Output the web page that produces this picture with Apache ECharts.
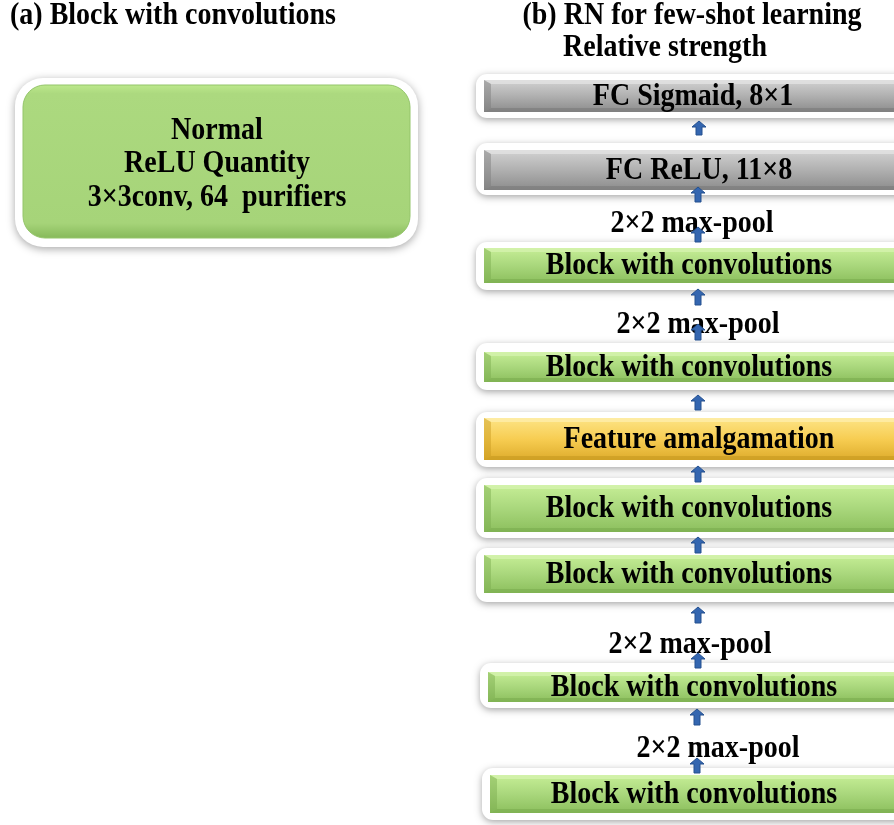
<!DOCTYPE html>
<html>
<head>
<meta charset="utf-8">
<script src="https://cdn.jsdelivr.net/npm/echarts@6/dist/echarts.min.js"></script>
<style>html,body{margin:0;padding:0;background:#fff}#c{width:894px;height:825px}</style>
</head>
<body>
<div id="c"></div>
<script>
// ---- content ----
const leftTitle = '(a) Block with convolutions';
const blockLines = ['Normal', 'ReLU Quantity', '3×3conv, 64  purifiers'];
const rightTitle = ['(b) RN for few-shot learning', 'Relative strength'];
const layerLabels = ['FC Sigmaid, 8×1', 'FC ReLU, 11×8', 'Block with convolutions', 'Block with convolutions',
  'Feature amalgamation', 'Block with convolutions', 'Block with convolutions', 'Block with convolutions', 'Block with convolutions'];
const layerKinds = ['fc', 'fc', 'conv', 'conv', 'merge', 'conv', 'conv', 'conv', 'conv'];
const poolLabel = '2×2 max-pool';

// ---- layout (pixels) ----
const layerOuter = [[74,118],[143,195],[242,290],[343,390],[412,467],[478,538],[548,602],[663,708],[768,820]];
const layerInner = [[80,112],[150,190],[248,283],[352,382],[418,460],[485,532],[555,593],[672,702],[775,813]];
const layerLeft = [484,484,484,484,484,484,484,488,490];
const layerTextX = [693,699,689,689,699,689,689,694,694];
const poolPos = [[692,224],[698,325],[690,645],[718,749]];
const arrowPos = [[699,121,135],[698,187,202],[698,227,242],[698,289,305],[698,324,340],[698,395,410],
  [698,466,482],[698,537,553],[698,607,623],[698,653,668],[697,709,725],[697,758,773]];

const FONT = 'bold 28px "Liberation Serif", "Times New Roman", serif';
const palette = {
  fc:   {top:'#d2d2d2', mid:'#b0b0b0', bot:'#8c8c8c', light:'#e2e2e2', dark:'#7a7a7a'},
  conv: {top:'#c6ee96', mid:'#a9d77c', bot:'#8cbf5d', light:'#d4f3ae', dark:'#7aab4e'},
  merge:{top:'#fde486', mid:'#f7cd52', bot:'#deac2c', light:'#feeeaa', dark:'#c79a20'}
};

function grad(c){
  return new echarts.graphic.LinearGradient(0,0,0,1,[
    {offset:0,color:c.top},{offset:0.5,color:c.mid},{offset:1,color:c.bot}]);
}
function txt(t, x, y, align){
  return {type:'text', x:x, y:y, scaleY:1.1, z:50,
    style:{text:t, x:0, y:0, textAlign:align||'center', textVerticalAlign:'middle', font:FONT, fill:'#000'}};
}

const g = [];
// left title
g.push(txt(leftTitle, 10, 16, 'left'));
// left block
g.push({type:'rect', shape:{x:15,y:78,width:403,height:169,r:28},
  style:{fill:'#fff', shadowBlur:8, shadowColor:'rgba(0,0,0,0.35)', shadowOffsetY:2}});
g.push({type:'rect', shape:{x:23,y:85,width:387,height:153,r:22},
  style:{fill:new echarts.graphic.LinearGradient(0,0,0,1,[
    {offset:0,color:'#bde98c'},{offset:0.06,color:'#acd97f'},{offset:0.9,color:'#a6d479'},{offset:1,color:'#86b95a'}]),
    stroke:'#94c56a', lineWidth:1}});
blockLines.forEach((t,i)=>{ g.push(txt(t, 217, 131+i*33.5)); });
// right titles
g.push(txt(rightTitle[0], 692, 16));
g.push(txt(rightTitle[1], 665, 48));

// layers
layerLabels.forEach((lab,i)=>{
  const c = palette[layerKinds[i]];
  const [ot,ob] = layerOuter[i];
  const [it,ib] = layerInner[i];
  const x0 = layerLeft[i];
  const ox = x0-8;
  g.push({type:'rect', shape:{x:ox,y:ot,width:930-ox,height:ob-ot,r:11},
    style:{fill:'#fff', shadowBlur:7, shadowColor:'rgba(0,0,0,0.35)', shadowOffsetY:2}});
  const w = 920-x0, h = ib-it, b = 7;
  g.push({type:'rect', shape:{x:x0,y:it,width:w,height:h}, style:{fill:grad(c)}});
  g.push({type:'polygon', shape:{points:[[x0,it],[x0+w,it],[x0+w,it+4],[x0+b,it+4]]}, style:{fill:c.light, opacity:0.8}});
  g.push({type:'polygon', shape:{points:[[x0,it],[x0+b,it+4],[x0+b,ib-4],[x0,ib]]}, style:{fill:c.dark, opacity:0.45}});
  g.push({type:'polygon', shape:{points:[[x0,ib],[x0+b,ib-4],[x0+w,ib-4],[x0+w,ib]]}, style:{fill:c.dark, opacity:0.6}});
  g.push(txt(lab, layerTextX[i], (it+ib)/2+1));
});
// pool labels
poolPos.forEach(p=>{ g.push(txt(poolLabel, p[0], p[1])); });
// arrows
arrowPos.forEach(a=>{
  const [cx,t,bt] = a;
  const hh = 6;
  g.push({type:'polygon', z:100, shape:{points:[[cx,t],[cx+7,t+hh],[cx+3,t+hh],[cx+3,bt],[cx-3,bt],[cx-3,t+hh],[cx-7,t+hh]]},
    style:{fill:'#3466b0', stroke:'#24508f', lineWidth:1}});
});

const chart = echarts.init(document.getElementById('c'), null, {renderer:'canvas'});
chart.setOption({animation:false, graphic:{elements:g}});
</script>
</body>
</html>
